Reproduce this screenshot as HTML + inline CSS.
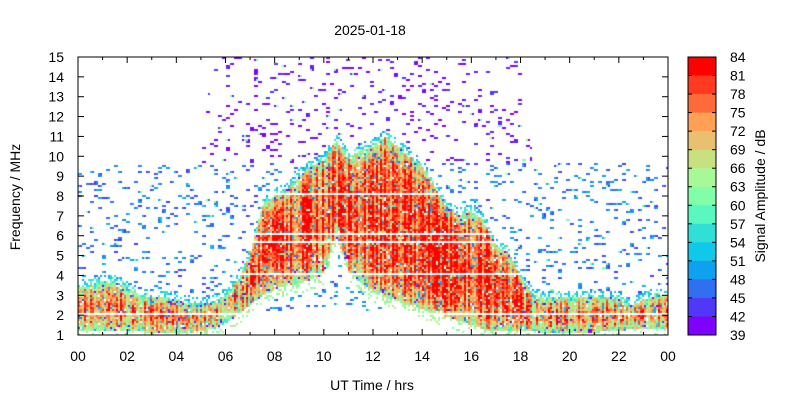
<!DOCTYPE html>
<html><head><meta charset="utf-8">
<style>
body{margin:0;background:#fff;width:800px;height:400px;overflow:hidden;position:relative;font-family:"Liberation Sans",Arial,sans-serif}
#hm{position:absolute;left:78px;top:57px}
svg{position:absolute;left:0;top:0}
text{font-family:"Liberation Sans",Arial,sans-serif;font-size:14px;fill:#000}
</style></head><body>
<canvas id="hm" width="590" height="278"></canvas>
<svg id="ax" width="800" height="400"></svg>
<script>
// data arrays (half-hour steps 0..24 h)
const hours=[0,0.5,1,1.5,2,2.5,3,3.5,4,4.5,5,5.5,6,6.5,7,7.5,8,8.5,9,9.5,10,10.5,11,11.5,12,12.5,13,13.5,14,14.5,15,15.5,16,16.5,17,17.5,18,18.5,19,19.5,20,20.5,21,21.5,22,22.5,23,23.5,24];
const emisTop=[3.4,3.5,3.7,3.7,3.4,3.0,2.9,2.9,2.8,2.6,2.5,2.7,3.0,3.8,5.0,7.5,8.0,8.3,9.0,9.5,9.8,10.8,10.0,10.3,10.5,11.0,10.5,10.0,9.5,8.5,7.5,7.0,7.3,6.8,5.5,5.2,4.0,3.0,2.9,2.9,2.9,2.9,2.9,2.9,2.8,2.5,2.8,3.0,3.0];
const emisBot=[1.2,1.2,1.2,1.2,1.2,1.2,1.1,1.1,1.1,1.1,1.2,1.3,1.6,2.0,2.5,3.0,3.3,3.5,3.6,3.8,4.0,6.0,4.2,3.7,3.2,2.9,2.7,2.5,2.3,2.1,1.9,1.7,1.5,1.3,1.2,1.2,1.2,1.2,1.1,1.1,1.1,1.1,1.1,1.2,1.2,1.3,1.3,1.3,1.3];
const noiseTop=[9.7,9.7,9.7,9.7,9.7,9.7,9.7,9.7,9.7,9.7,9.7,15,15,15,15,15,15,15,15,15,15,15,15,15,15,15,15,15,15,15,15,15,15,15,15,15,15,9.7,9.7,9.7,9.7,9.7,9.7,9.7,9.7,9.7,9.7,9.7,9.7];
const gapFreqs=[2.05,4.1,5.65,6.1,8.1];
const cbTicks=[84,81,78,75,72,69,66,63,60,57,54,51,48,45,42,39];
const cbColors=['#ff0000','#ff3a20','#ff6a3a','#ffa055','#e8c070','#c8e080','#a8f898','#80ffa8','#58f8c0','#30e0d8','#10c8e8','#10a0f0','#3070f0','#5038f8','#8000ff'];
const xTicks=['00','02','04','06','08','10','12','14','16','18','20','22','00'];
const yTicks=[1,2,3,4,5,6,7,8,9,10,11,12,13,14,15];

const X0=78,X1=668,Y0=335,Y1=57,F0=1,F1=15;
const xs=h=>X0+(h/24)*(X1-X0);
const ys=f=>Y0-(f-F0)/(F1-F0)*(Y0-Y1);
function interp(arr,t){const i=Math.min(Math.floor(t/0.5),arr.length-2);const u=(t-hours[i])/0.5;return arr[i]*(1-u)+arr[i+1]*u;}
function hash(a,b){let h=(a*374761393+b*668265263)|0;h=(h^(h>>>13))*1274126177|0;return ((h^(h>>>16))>>>0)/4294967296;}
function colorOf(v){let k=Math.floor((84-v)/3);k=Math.max(0,Math.min(14,k));return cbColors[k];}

// heatmap
const ctx=document.getElementById('hm').getContext('2d');
const CW=2,CH=2;
for(let cx=0;cx<590;cx+=CW){
  const t=(cx+1)/590*24;
  const top=interp(emisTop,t),bot=interp(emisBot,t),nt=interp(noiseTop,t);
  const streak=(hash(cx,7)-0.5)*16;
  for(let cy=0;cy<278;cy+=CH){
    const f=F1-(cy+1)/278*(F1-F0);
    if(gapFreqs.some(g=>Math.abs(f-g)<0.05))continue;
    let v=null;const r=hash(cx,cy);
    if(f<=top&&f>=bot){
      const d=Math.min(f-bot,top-f);
      const big=top-bot>2.5;
      v=(big?80:77)-16*Math.exp(-d/(big?0.7:0.5))+streak+(r-0.5)*14;
      if(r<0.07)v-=18;
      if(r>0.97)continue;
    }else if(f>top&&f<top+0.35){
      if(r<0.45)v=58-(f-top)*20+(r-0.25)*16;
    }else if(f<bot&&f>bot-0.5){
      if(r<0.2)v=60+(r*40);
    }else if(f<=nt&&f>2.2){
      const p=f>9.7?0.085:0.11;
      const hr=hash(cy,Math.floor(cx/4));
      if(hr<p){const q=hash(cy,cx+11);v=f>9.7?(39+q*5):(43+q*9);if(q>0.93)v=56+q*6;}
    }
    if(v===null)continue;
    v=Math.max(39,Math.min(84,v));
    ctx.fillStyle=colorOf(v);
    ctx.fillRect(cx,cy,CW,CH);
  }
}

// axes
const svg=document.getElementById('ax');const NS='http://www.w3.org/2000/svg';
function mk(tag,attrs,txt){const e=document.createElementNS(NS,tag);for(const k in attrs)e.setAttribute(k,attrs[k]);if(txt!==undefined)e.textContent=txt;svg.appendChild(e);return e;}
let e=mk('rect',{x:X0,y:Y1,width:X1-X0,height:Y0-Y1,fill:'none',stroke:'#000','stroke-width':1});


xTicks.forEach((lab,i)=>{const x=xs(i*2);
  mk('line',{x1:x,x2:x,y1:Y0,y2:Y0-6,stroke:'#000'});mk('line',{x1:x,x2:x,y1:Y1,y2:Y1+6,stroke:'#000'});
  if(i<12){const xm=xs(i*2+1);mk('line',{x1:xm,x2:xm,y1:Y0,y2:Y0-3,stroke:'#000'});mk('line',{x1:xm,x2:xm,y1:Y1,y2:Y1+3,stroke:'#000'});}
  const t=mk('text',{x:x,y:361,'text-anchor':'middle'},lab);
  
  
});
yTicks.forEach(v=>{const y=ys(v);
  mk('line',{x1:X0,x2:X0+6,y1:y,y2:y,stroke:'#000'});mk('line',{x1:X1,x2:X1-6,y1:y,y2:y,stroke:'#000'});
  const t=mk('text',{x:64,y:y+5,'text-anchor':'end'},v);
  
  
});
// colorbar
const CB0=688,CB1=716,CBT=57,CBB=335,bh=(CBB-CBT)/15;
cbColors.forEach((c,i)=>{const r=mk('rect',{x:CB0,y:CBT+i*bh,width:CB1-CB0,height:bh+0.5,fill:c});
  
  });
mk('rect',{x:CB0,y:CBT,width:CB1-CB0,height:CBB-CBT,fill:'none',stroke:'#000'});
cbTicks.forEach((v,i)=>{const y=CBT+i*bh;
  mk('line',{x1:CB0,x2:CB0+4,y1:y,y2:y,stroke:'#000'});mk('line',{x1:CB1,x2:CB1-4,y1:y,y2:y,stroke:'#000'});
  const t=mk('text',{x:730,y:y+5},v);
  
  });
e=mk('text',{x:370,y:35,'text-anchor':'middle'},'2025-01-18');


e=mk('text',{x:372,y:390,'text-anchor':'middle'},'UT Time / hrs');


e=mk('text',{x:0,y:0,'text-anchor':'middle',transform:'translate(20,197) rotate(-90)'},'Frequency / MHz');


e=mk('text',{x:0,y:0,'text-anchor':'middle',transform:'translate(765,196) rotate(-90)'},'Signal Amplitude / dB');


</script>
</body></html>
